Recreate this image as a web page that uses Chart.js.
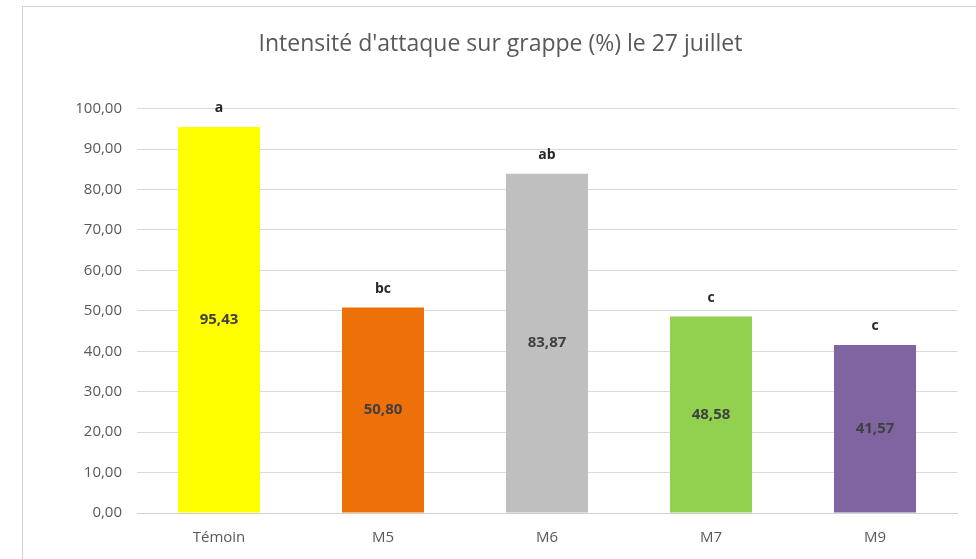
<!DOCTYPE html>
<html>
<head>
<meta charset="utf-8">
<script src="https://cdn.jsdelivr.net/npm/chart.js@4"></script>
<style>
  html, body { margin: 0; padding: 0; background: #fff; }
  #wrap { position: relative; width: 976px; height: 559px; }
  #frame { position: absolute; left: 22px; top: 6px; right: -2px; bottom: -2px; border-left: 1px solid #d0d0d0; border-top: 1px solid #d0d0d0; }
  canvas { position: absolute; left: 0; top: 0; }
</style>
</head>
<body>
<div id="wrap">
  <div id="frame"></div>
  <canvas id="chart" width="976" height="559"></canvas>
</div>
<script>
const categories = ['Témoin', 'M5', 'M6', 'M7', 'M9'];
const values = [95.43, 50.80, 83.87, 48.58, 41.57];
const letters = ['a', 'bc', 'ab', 'c', 'c'];
const barColors = ['#FFFF00', '#EE7008', '#BFBFBF', '#92D050', '#8064A2'];

const fmt = v => v.toFixed(2).replace('.', ',');

// labels: value in middle of bar, letter above it
const barLabels = {
  id: 'barLabels',
  afterDatasetsDraw(chart) {
    const ctx = chart.ctx;
    const meta = chart.getDatasetMeta(0);
    ctx.save();
    ctx.textAlign = 'center';
    ctx.textBaseline = 'middle';
    meta.data.forEach((bar, i) => {
      ctx.font = 'bold 15px "Open Sans", sans-serif';
      ctx.fillStyle = '#404040';
      ctx.fillText(fmt(values[i]), bar.x, (bar.y + bar.base) / 2);
      ctx.font = 'bold 14px "Open Sans", sans-serif';
      ctx.fillStyle = '#262626';
      ctx.fillText(letters[i], bar.x, bar.y - 19);
    });
    ctx.restore();
  }
};

new Chart(document.getElementById('chart').getContext('2d'), {
  type: 'bar',
  data: {
    labels: categories,
    datasets: [{
      data: values,
      backgroundColor: barColors,
      categoryPercentage: 1,
      barPercentage: 0.5
    }]
  },
  options: {
    responsive: false,
    animation: false,
    layout: { padding: { top: 14, right: 19, bottom: 4, left: 44 } },
    plugins: {
      legend: { display: false },
      tooltip: { enabled: false },
      title: {
        display: true,
        text: "Intensité d'attaque sur grappe (%) le 27 juillet",
        color: '#595959',
        font: { family: '"Open Sans", sans-serif', size: 23, weight: 'normal' },
        padding: { top: 17, bottom: 50 }
      }
    },
    scales: {
      x: {
        grid: { display: false },
        border: { color: '#d0d0d0' },
        ticks: { color: '#595959', font: { family: '"Open Sans", sans-serif', size: 15 }, padding: 8 }
      },
      y: {
        min: 0,
        max: 100,
        afterFit(scale) { scale.width = 93; },
        grid: { color: '#d9d9d9', drawTicks: false },
        border: { display: false },
        ticks: {
          stepSize: 10,
          color: '#595959',
          padding: 15,
          font: { family: '"Open Sans", sans-serif', size: 15 },
          callback: v => fmt(v)
        }
      }
    }
  },
  plugins: [barLabels]
});
</script>
</body>
</html>
